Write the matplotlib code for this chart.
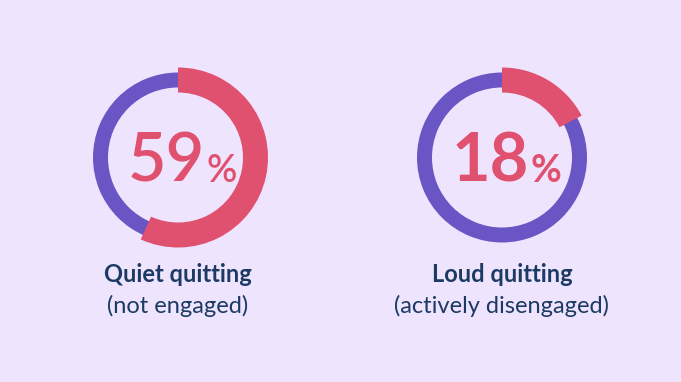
import matplotlib
matplotlib.use("Agg")
import matplotlib.pyplot as plt
from matplotlib.patches import Wedge

# ── data ─────────────────────────────────────────────────────────────────────
percents = [59, 18]                 # printed values
arc_percents = [56.8, 17.3]         # arc length as drawn in the picture
titles = ["Quiet quitting", "Loud quitting"]
subtitles = ["(not engaged)", "(actively disengaged)"]
number_weights = ["semibold", "bold"]

BG = "#EFE4FD"
RED = "#E0506F"
PURPLE = "#6A55C4"
NAVY = "#1C3A63"

W, H = 681, 382
centers_x = [178, 502]
center_y = 157.5


def py(y):
    # pixel row (from top) -> data y
    return H - y


def main():
    fig = plt.figure(figsize=(W / 100, H / 100), dpi=100, facecolor=BG)
    ax = fig.add_axes([0, 0, 1, 1])
    ax.set_xlim(0, W)
    ax.set_ylim(0, H)
    ax.set_aspect("equal")
    ax.axis("off")

    for cx, pct, arc, title, sub, wt in zip(centers_x, percents, arc_percents,
                                            titles, subtitles, number_weights):
        c = (cx, py(center_y))
        # full purple ring
        ax.add_patch(Wedge(c, 85, 0, 360, width=15, facecolor=PURPLE, edgecolor="none"))
        # red arc, clockwise from 12 o'clock
        ax.add_patch(Wedge(c, 90, 90 - arc * 3.6, 90, width=25, facecolor=RED, edgecolor="none"))

        split = cx + 27
        ax.text(split, py(182), f"{pct}", ha="right", va="baseline", color=RED,
                fontsize=48, family="Lato", fontweight=wt)
        ax.text(split + 1, py(182), "%", ha="left", va="baseline", color=RED,
                fontsize=27, family="Lato", fontweight=wt)

        ax.text(cx, py(282), title, ha="center", va="baseline", color=NAVY,
                fontsize=17, family="Lato", fontweight="bold")
        ax.text(cx, py(313), sub, ha="center", va="baseline", color=NAVY,
                fontsize=17, family="Lato")

    fig.savefig("out.png", dpi=100, facecolor=BG)
    plt.close(fig)


if __name__ == "__main__":
    main()
